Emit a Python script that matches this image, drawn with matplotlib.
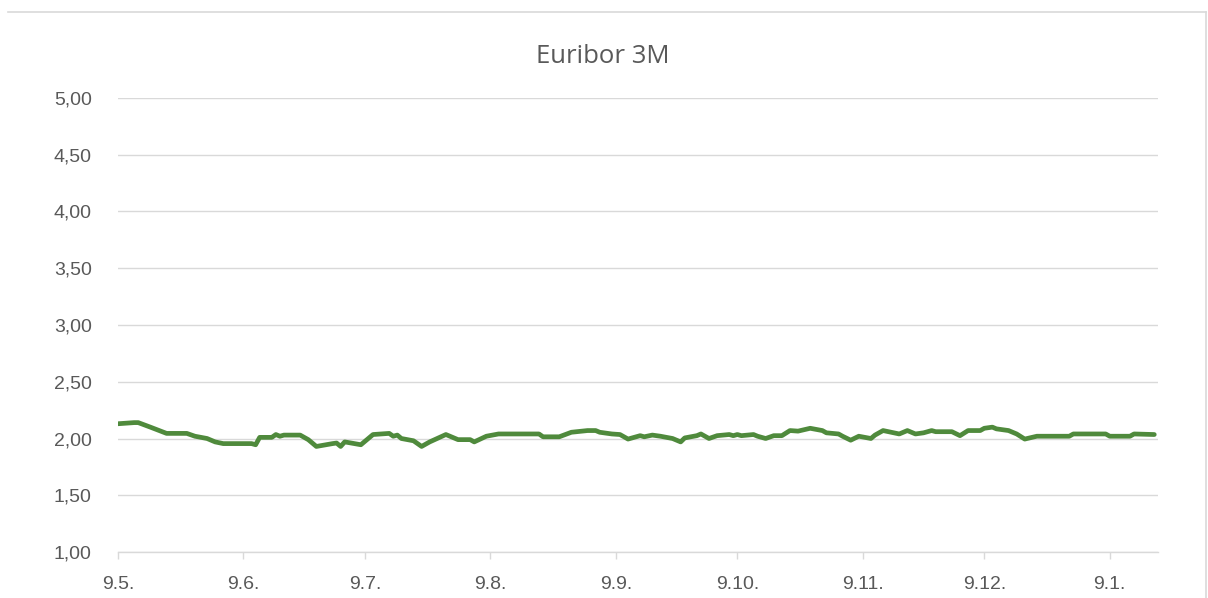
import matplotlib
matplotlib.use("Agg")
import matplotlib.pyplot as plt
from matplotlib.ticker import FuncFormatter
from matplotlib.lines import Line2D
import pandas as pd

# Euribor 3M, values
dates = [
    "2025-05-09", "2025-05-13", "2025-05-14", "2025-05-17", "2025-05-21", "2025-05-26",
    "2025-05-28", "2025-05-31", "2025-06-02", "2025-06-04", "2025-06-11", "2025-06-12",
    "2025-06-13", "2025-06-16", "2025-06-17", "2025-06-18", "2025-06-19", "2025-06-23",
    "2025-06-25", "2025-06-27", "2025-07-01", "2025-07-02", "2025-07-03", "2025-07-04",
    "2025-07-08", "2025-07-11", "2025-07-15", "2025-07-16", "2025-07-17", "2025-07-18",
    "2025-07-21", "2025-07-23", "2025-07-25", "2025-07-29", "2025-08-01", "2025-08-04",
    "2025-08-05", "2025-08-08", "2025-08-11", "2025-08-21", "2025-08-22", "2025-08-26",
    "2025-08-29", "2025-09-02", "2025-09-04", "2025-09-05", "2025-09-08", "2025-09-10",
    "2025-09-12", "2025-09-15", "2025-09-16", "2025-09-18", "2025-09-20", "2025-09-23",
    "2025-09-25", "2025-09-26", "2025-09-29", "2025-09-30", "2025-10-02", "2025-10-04",
    "2025-10-07", "2025-10-08", "2025-10-09", "2025-10-10", "2025-10-13", "2025-10-14",
    "2025-10-16", "2025-10-18", "2025-10-20", "2025-10-22", "2025-10-24", "2025-10-27",
    "2025-10-30", "2025-10-31", "2025-11-03", "2025-11-04", "2025-11-06", "2025-11-08",
    "2025-11-11", "2025-11-12", "2025-11-14", "2025-11-18", "2025-11-20", "2025-11-22",
    "2025-11-24", "2025-11-26", "2025-11-27", "2025-12-01", "2025-12-03", "2025-12-05",
    "2025-12-08", "2025-12-09", "2025-12-11", "2025-12-12", "2025-12-15", "2025-12-17",
    "2025-12-19", "2025-12-22", "2025-12-30", "2025-12-31", "2026-01-08", "2026-01-09",
    "2026-01-14", "2026-01-15", "2026-01-20",
]
rates = [
    2.13, 2.14, 2.14, 2.10, 2.045, 2.045,
    2.02, 2.00, 1.97, 1.955, 1.955, 1.945,
    2.01, 2.01, 2.035, 2.02, 2.03, 2.03,
    1.99, 1.93, 1.955, 1.96, 1.93, 1.97,
    1.945, 2.035, 2.045, 2.02, 2.03, 2.00,
    1.98, 1.93, 1.97, 2.035, 1.99, 1.99,
    1.97, 2.02, 2.04, 2.04, 2.015, 2.015,
    2.055, 2.07, 2.07, 2.055, 2.04, 2.035,
    1.995, 2.025, 2.015, 2.03, 2.02, 2.00,
    1.97, 2.005, 2.025, 2.04, 2.00, 2.025,
    2.035, 2.025, 2.035, 2.025, 2.035, 2.02,
    2.00, 2.025, 2.025, 2.07, 2.065, 2.09,
    2.07, 2.05, 2.04, 2.02, 1.985, 2.02,
    2.00, 2.03, 2.07, 2.04, 2.07, 2.04,
    2.05, 2.07, 2.06, 2.06, 2.025, 2.07,
    2.07, 2.09, 2.10, 2.085, 2.07, 2.04,
    1.995, 2.02, 2.02, 2.04, 2.04, 2.02,
    2.02, 2.04, 2.035,
]
tick_dates = ["2025-05-09", "2025-06-09", "2025-07-09", "2025-08-09", "2025-09-09",
              "2025-10-09", "2025-11-09", "2025-12-09", "2026-01-09"]
y_ticks = [1.0, 1.5, 2.0, 2.5, 3.0, 3.5, 4.0, 4.5, 5.0]

x = pd.to_datetime(dates)
xt = pd.to_datetime(tick_dates)

grid_col = "#d9d9d9"
text_col = "#595959"

fig = plt.figure(figsize=(12.08, 5.98), dpi=100)
ax = fig.add_axes([118 / 1208, 46 / 598, 1040 / 1208, 454 / 598])

ax.plot(x, rates, color="#4f8a3c", lw=3.4, solid_joinstyle="round", solid_capstyle="round", zorder=3)

ax.set_xlim(pd.Timestamp("2025-05-09"), pd.Timestamp("2026-01-20 22:00"))
ax.set_ylim(1.0, 5.0)
ax.set_yticks(y_ticks)
ax.yaxis.set_major_formatter(FuncFormatter(lambda v, p: f"{v:.2f}".replace(".", ",")))
ax.set_xticks(xt)
ax.set_xticklabels([f"{d.day}.{d.month}." for d in xt])

ax.grid(axis="y", color=grid_col, lw=1.0)
ax.set_axisbelow(True)
for s in ["top", "right", "left"]:
    ax.spines[s].set_visible(False)
ax.spines["bottom"].set_color(grid_col)
ax.spines["bottom"].set_linewidth(1.0)

ax.tick_params(axis="y", length=0, pad=19, labelsize=14, labelcolor=text_col)
ax.tick_params(axis="x", length=5, width=1, color=grid_col, pad=12, labelsize=14, labelcolor=text_col)
for lab in ax.get_xticklabels() + ax.get_yticklabels():
    lab.set_fontfamily("Liberation Sans")

fig.text(0.499, 0.906, "Euribor 3M", ha="center", va="center", fontsize=18.5,
         color=text_col, fontfamily="Open Sans")

# chart area frame (top and right edges visible)
fig.add_artist(Line2D([8 / 1208, 1206 / 1208], [1 - 12 / 598, 1 - 12 / 598], color=grid_col, lw=1.2))
fig.add_artist(Line2D([1206 / 1208, 1206 / 1208], [0, 1 - 12 / 598], color=grid_col, lw=1.2))

fig.savefig("out.png", dpi=100)
